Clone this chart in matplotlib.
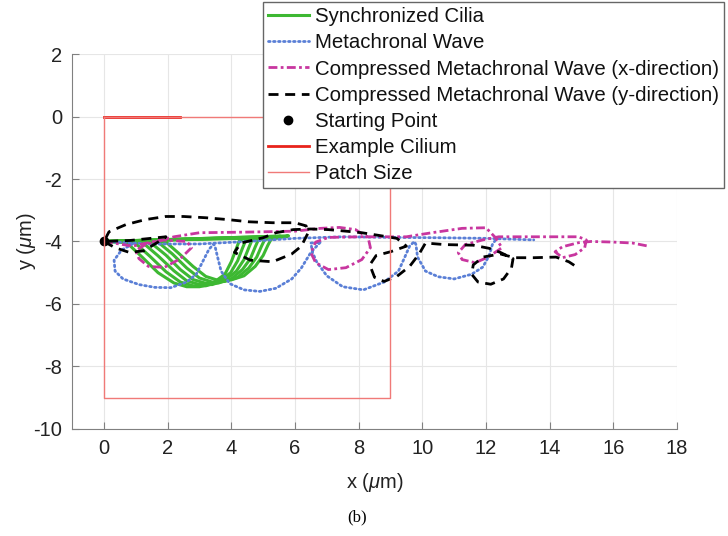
import matplotlib
matplotlib.use('Agg')
import matplotlib.pyplot as plt

plt.rcParams['font.family'] = ['Liberation Sans', 'DejaVu Sans']
plt.rcParams['axes.unicode_minus'] = False
plt.rcParams['mathtext.fontset'] = 'custom'
plt.rcParams['mathtext.it'] = 'Liberation Sans:italic'

# synchronized cilia: one closed loop per beat (top path out, lower arc back)
sync_loop_x = [
    [0, 4.4, 4.25, 4.15, 4.0, 3.8, 3.4, 3.0, 2.6, 2.2, 1.7, 1.2, 0.7, 0],
    [0, 4.7, 4.45, 4.35, 4.2, 3.98, 3.6, 3.2, 2.8, 2.4, 1.95, 1.45, 0.95, 0],
    [0, 5.0, 4.65, 4.55, 4.4, 4.16, 3.8, 3.4, 3.0, 2.6, 2.2, 1.7, 1.2, 0],
    [0, 5.3, 4.85, 4.75, 4.6, 4.35, 4.0, 3.6, 3.2, 2.8, 2.4, 1.95, 1.45, 0],
    [0, 5.55, 5.05, 4.95, 4.8, 4.55, 4.2, 3.8, 3.4, 3.0, 2.6, 2.15, 1.7, 0],
    [0, 5.8, 5.25, 5.15, 5.0, 4.75, 4.4, 4.0, 3.6, 3.2, 2.8, 2.35, 1.95, 0],
]
sync_loop_y = [
    [-4.0, -3.9, -3.98, -4.25, -4.65, -5.05, -5.35, -5.45, -5.45, -5.33, -5.0, -4.5, -4.02, -4.0],
    [-4.0, -3.88, -3.97, -4.22, -4.62, -5.0, -5.3, -5.42, -5.42, -5.3, -4.97, -4.48, -4.02, -4.0],
    [-4.0, -3.86, -3.96, -4.2, -4.58, -4.95, -5.25, -5.38, -5.38, -5.26, -4.94, -4.46, -4.02, -4.0],
    [-4.0, -3.85, -3.95, -4.18, -4.55, -4.9, -5.2, -5.33, -5.34, -5.22, -4.9, -4.44, -4.02, -4.0],
    [-4.0, -3.83, -3.94, -4.15, -4.5, -4.85, -5.15, -5.28, -5.3, -5.17, -4.85, -4.4, -4.02, -4.0],
    [-4.0, -3.82, -3.93, -4.12, -4.45, -4.8, -5.1, -5.23, -5.25, -5.12, -4.8, -4.38, -4.02, -4.0],
]

# metachronal wave: loops under a flat top path
meta_top_x = [0, 1.5, 3.0, 4.5, 6.0, 7.5, 9.0, 10.5, 12.0, 13.5]
meta_top_y = [-4.0, -4.08, -4.08, -4.0, -3.9, -3.85, -3.87, -3.88, -3.9, -3.95]
meta_loop_x = [0.9, 0.55, 0.32, 0.35, 0.6, 1.1, 1.6, 2.1, 2.6, 2.9, 3.1, 3.3, 3.45,
               3.5, 3.57, 3.68, 3.95, 4.4, 4.9, 5.4, 5.9, 6.2, 6.5, 6.8,
               6.5, 6.55, 6.68, 7.0, 7.5, 8.15, 8.8, 9.25, 9.45, 9.6, 9.75,
               9.8, 9.85, 10.1, 10.5, 11.0, 11.55, 11.9, 12.1, 12.2, 12.3]
meta_loop_y = [-4.08, -4.28, -4.6, -4.95, -5.2, -5.38, -5.47, -5.48, -5.3, -5.05, -4.65, -4.25, -4.08,
               -4.2, -4.5, -4.95, -5.35, -5.55, -5.6, -5.5, -5.2, -4.85, -4.35, -4.02,
               -4.05, -4.35, -4.65, -5.1, -5.45, -5.55, -5.3, -4.95, -4.5, -4.15, -4.0,
               -4.1, -4.5, -4.95, -5.13, -5.2, -5.05, -4.82, -4.45, -4.1, -3.95]

# compressed wave, x-direction
cmx_x = [0, 0.9, 1.8, 2.6, 2.75, 2.4, 1.9, 1.4, 1.1, 1.0, 1.3, 2.2, 3.0, 4.5, 6.0,
         6.8, 7.4, 7.9, 8.3, 8.37, 8.1, 7.6, 7.05, 6.65, 6.5, 6.65, 7.05, 8.1, 9.5,
         10.3, 11.25, 12.0, 12.3, 12.5, 12.07, 11.66, 11.25, 11.13, 11.35, 11.9, 12.4,
         13.5, 14.9, 15.15, 15.1, 14.8, 14.4, 14.17, 14.4, 14.9, 15.3, 16.0, 16.6, 17.1]
cmx_y = [-4.0, -4.15, -3.95, -4.0, -4.2, -4.55, -4.83, -4.8, -4.55, -4.3, -4.1, -3.85, -3.72, -3.7, -3.67,
         -3.58, -3.55, -3.62, -3.88, -4.2, -4.58, -4.84, -4.9, -4.68, -4.36, -4.02, -3.87, -3.85, -3.85,
         -3.72, -3.58, -3.56, -3.88, -4.2, -4.5, -4.68, -4.58, -4.36, -4.1, -3.95, -3.85,
         -3.85, -3.85, -3.95, -4.2, -4.42, -4.52, -4.33, -4.17, -4.04, -4.0, -4.02, -4.05, -4.15]

# compressed wave, y-direction
cmy_x = [0, 0.35, 0.8, 1.25, 1.65, 1.95, 0.8, 0,
         0.16, 0.69, 1.3, 1.94, 2.5, 3.2, 3.9, 4.55, 5.3, 6.0, 6.35, 6.4,
         6.2, 5.9, 5.3, 4.6, 4.1, 4.3, 5.0, 5.4, 5.95, 6.5, 7.05, 7.6, 8.1, 8.6, 9.2,
         9.5, 9.0, 8.55, 8.35, 8.5, 8.8, 9.2, 9.6, 9.9, 10.1, 10.7, 11.6, 12.1, 12.45,
         12.85, 12.8, 12.55, 12.15, 11.75, 11.55, 11.6, 11.9, 12.45, 12.9, 13.5, 14.2, 14.6, 14.9]
cmy_y = [-4.0, -4.2, -4.35, -4.3, -4.05, -3.85, -3.97, -4.0,
         -3.69, -3.46, -3.3, -3.2, -3.2, -3.24, -3.3, -3.37, -3.4, -3.4, -3.5, -3.75,
         -4.15, -4.4, -4.65, -4.6, -4.35, -4.05, -3.88, -3.72, -3.62, -3.6, -3.62, -3.67, -3.72, -3.8, -3.9,
         -4.15, -4.33, -4.45, -4.75, -5.15, -5.28, -5.12, -4.8, -4.4, -4.05, -4.1, -4.12, -4.22, -4.35,
         -4.55, -4.85, -5.2, -5.37, -5.3, -5.05, -4.75, -4.5, -4.4, -4.52, -4.52, -4.5, -4.65, -4.85]

start_x, start_y = 0, -4
cilium_x = [0, 2.4]
cilium_y = [0, 0]
patch_x = [0, 9, 9, 0, 0]
patch_y = [0, 0, -9, -9, 0]

green = '#3db832'
blue = '#5a7fd6'
magenta = '#c8369f'

fig = plt.figure(figsize=(7.28, 5.36), dpi=100)
ax = fig.add_axes([0.099, 0.2, 0.831, 0.699])

for i in range(len(sync_loop_x)):
    ax.plot(sync_loop_x[i], sync_loop_y[i], color=green, lw=2.2,
            label='Synchronized Cilia' if i == 0 else None)
ax.plot(meta_top_x, meta_top_y, color=blue, lw=2, ls=(0, (0.6, 1.2)),
        dash_capstyle='round', label='Metachronal Wave')
ax.plot(meta_loop_x, meta_loop_y, color=blue, lw=2, ls=(0, (0.6, 1.2)),
        dash_capstyle='round')
ax.plot(cmx_x, cmx_y, color=magenta, lw=2, ls=(0, (3.2, 1.2, 1, 1.2)),
        label='Compressed Metachronal Wave (x-direction)')
ax.plot(cmy_x, cmy_y, color='black', lw=2, ls=(0, (3.6, 2.4)),
        label='Compressed Metachronal Wave (y-direction)')
ax.plot(start_x, start_y, 'o', color='black', ms=6, label='Starting Point')
ax.plot(cilium_x, cilium_y, color='#e8231b', lw=2, label='Example Cilium')
ax.plot(patch_x, patch_y, color='#f07a78', lw=1, label='Patch Size')

ax.set_xlim(-1, 18)
ax.set_ylim(-10, 2)
ax.set_xticks(range(0, 19, 2))
ax.set_yticks(range(-10, 3, 2))
ax.grid(color='#e6e6e6', lw=0.8)
ax.set_axisbelow(True)
for s in ['top', 'right']:
    ax.spines[s].set_visible(False)
for s in ['left', 'bottom']:
    ax.spines[s].set_color('#808080')
ax.tick_params(direction='in', length=5, color='#808080', labelsize=14.5,
               labelcolor='#222222', pad=7)
ax.set_xlabel('x ($\\mu$m)', fontsize=14.5, color='#222222', labelpad=10)
ax.set_ylabel('y ($\\mu$m)', fontsize=14.5, color='#222222', labelpad=-3)

leg = ax.legend(loc='upper left', bbox_to_anchor=(0.361, 0.996),
                bbox_transform=fig.transFigure, fontsize=14.7, frameon=True,
                fancybox=False, edgecolor='#666666', framealpha=1,
                handlelength=2.0, handletextpad=0.3, labelspacing=0.35,
                borderpad=0.25, borderaxespad=0)
leg.get_frame().set_linewidth(1)
for t in leg.get_texts():
    t.set_color('#111111')

fig.text(0.49, 0.035, '(b)', fontsize=12, family='Liberation Serif',
         ha='center', va='center')

fig.savefig('out.png', dpi=100)
